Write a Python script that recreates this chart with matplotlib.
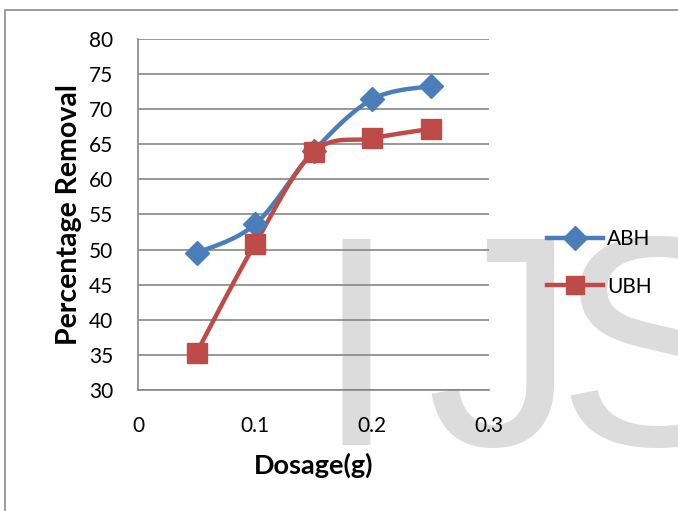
import numpy as np
import matplotlib.pyplot as plt
from matplotlib.patches import Rectangle
from matplotlib.lines import Line2D

dosage = [0.05, 0.1, 0.15, 0.2, 0.25]
abh = [49.5, 53.6, 64.0, 71.4, 73.3]
ubh = [35.3, 50.8, 63.9, 65.85, 67.2]
x_ticks = [0, 0.1, 0.2, 0.3]
x_labels = ['0', '0.1', '0.2', '0.3']
y_ticks = list(range(30, 85, 5))

blue = '#4A7EBB'
red = '#BE4B48'

plt.rcParams['font.family'] = ['Lato', 'DejaVu Sans']


def smooth(xs, ys, n=30):
    # Excel-style smoothed line (Catmull-Rom through the points)
    p = np.column_stack([xs, ys])
    p = np.vstack([p[0], p, p[-1]])
    out = []
    t = np.linspace(0, 1, n)[:, None]
    for i in range(1, len(p) - 2):
        p0, p1, p2, p3 = p[i - 1], p[i], p[i + 1], p[i + 2]
        c1 = p1 + (p2 - p0) / 6
        c2 = p2 - (p3 - p1) / 6
        seg = ((1 - t) ** 3) * p1 + 3 * ((1 - t) ** 2) * t * c1 + 3 * (1 - t) * t ** 2 * c2 + t ** 3 * p2
        out.append(seg)
    out = np.vstack(out)
    return out[:, 0], out[:, 1]


fig = plt.figure(figsize=(6.78, 5.11), dpi=100)
fig.patch.set_facecolor('white')

# outer chart frame
fig.patches.append(Rectangle((5 / 678, -0.1), 1.2, 1 - 10 / 511 + 0.1,
                             transform=fig.transFigure, fill=False,
                             edgecolor='#8c8c8c', linewidth=1.2, zorder=-2))

# watermark letters, behind everything
for letter, px in [('I', 315), ('J', 426), ('S', 556)]:
    fig.text(px / 678, 1 - 445 / 511, letter, fontsize=215, color='#DCDCDC',
             family='Liberation Sans', va='baseline', ha='left', zorder=-1)

ax = fig.add_axes([138 / 678, 1 - 390 / 511, 351 / 678, 351 / 511])
ax.patch.set_alpha(0)

sx, sy = smooth(dosage, abh)
ax.plot(sx, sy, color=blue, lw=3.2, solid_capstyle='round', zorder=3)
ax.plot(dosage, abh, ls='none', marker='D', ms=12, color=blue, zorder=4)
sx, sy = smooth(dosage, ubh)
ax.plot(sx, sy, color=red, lw=3.2, solid_capstyle='round', zorder=3)
ax.plot(dosage, ubh, ls='none', marker='s', ms=14, color=red, zorder=4)

ax.set_xlim(0, 0.3)
ax.set_ylim(30, 80)
ax.set_xticks(x_ticks)
ax.set_xticklabels(x_labels)
ax.set_yticks(y_ticks)
ax.tick_params(axis='both', length=0, labelsize=15, colors='black')
ax.tick_params(axis='x', pad=19)
ax.tick_params(axis='y', pad=18)
ax.yaxis.grid(True, color='#868686', lw=1.2)
ax.set_axisbelow(True)
for s in ['top', 'right']:
    ax.spines[s].set_visible(False)
for s in ['left', 'bottom']:
    ax.spines[s].set_color('#868686')
    ax.spines[s].set_linewidth(1.2)

ax.set_xlabel('Dosage(g)', fontsize=19.5, fontweight='bold', labelpad=12)
ax.set_ylabel('Percentage Removal', fontsize=20.5, fontweight='bold', labelpad=5)

# legend
handles = [Line2D([], [], color=blue, lw=3.2, marker='D', ms=12),
           Line2D([], [], color=red, lw=3.2, marker='s', ms=13)]
fig.legend(handles, ['ABH', 'UBH'], loc='center left',
           bbox_to_anchor=(528 / 678, 1 - 263 / 511), frameon=False,
           fontsize=15, handlelength=2.7, handletextpad=0.2, labelspacing=1.3)

plt.savefig('out.png', dpi=100)
